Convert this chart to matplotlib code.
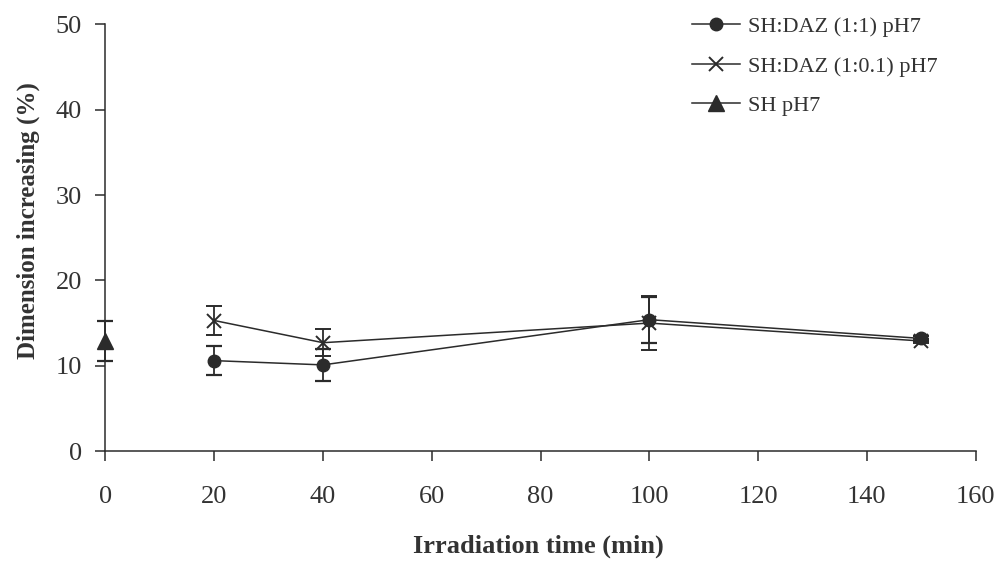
import matplotlib.pyplot as plt

# Data
time_11 = [20, 40, 100, 150]
dim_11 = [10.6, 10.1, 15.4, 13.2]
err_11 = [1.7, 1.9, 2.7, 0.3]

time_101 = [20, 40, 100, 150]
dim_101 = [15.3, 12.7, 15.0, 12.9]
err_101 = [1.7, 1.6, 3.2, 0.2]

time_sh = [0]
dim_sh = [12.9]
err_sh = [2.4]

plt.rcParams['font.family'] = ['Liberation Serif', 'DejaVu Serif']

fig = plt.figure(figsize=(9.99, 5.66), dpi=100)
ax = fig.add_axes([0.1056, 0.203, 0.871, 0.754])

col = '#2b2b2b'
ax.errorbar(time_11, dim_11, yerr=err_11, color=col, marker='o', markersize=9,
            linewidth=1.1, capsize=6, capthick=1.6, elinewidth=1.3,
            label='SH:DAZ (1:1) pH7')
ax.errorbar(time_101, dim_101, yerr=err_101, color=col, marker='x', markersize=10,
            markeredgewidth=1.4, linewidth=1.1, capsize=6, capthick=1.6, elinewidth=1.3,
            label='SH:DAZ (1:0.1) pH7')
ax.errorbar(time_sh, dim_sh, yerr=err_sh, color=col, marker='^', markersize=11,
            linewidth=1.1, capsize=6, capthick=1.6, elinewidth=1.3,
            label='SH pH7', clip_on=False)

ax.set_xlim(0, 160)
ax.set_ylim(0, 50)
ax.set_xticks(range(0, 161, 20))
ax.set_yticks(range(0, 51, 10))
ax.spines['top'].set_visible(False)
ax.spines['right'].set_visible(False)
for s in ['left', 'bottom']:
    ax.spines[s].set_color(col)
    ax.spines[s].set_linewidth(1.1)
ax.tick_params(direction='out', length=7, width=1.1, colors=col, labelsize=19,
               labelcolor='#333333')
ax.tick_params(axis='x', pad=18)
ax.tick_params(axis='y', pad=10)

ax.set_xlabel('Irradiation time (min)', fontsize=19, fontweight='bold',
              color='#333333')
ax.set_ylabel('Dimension increasing (%)', fontsize=18, fontweight='bold',
              color='#333333')
ax.xaxis.set_label_coords(0.498, -0.195)
ax.yaxis.set_label_coords(-0.075, 0.54)

handles, labels = ax.get_legend_handles_labels()
handles = [h[0] for h in handles]
leg = ax.legend(handles, labels, loc='upper left', bbox_to_anchor=(0.651, 1.065),
                frameon=False, fontsize=16, handlelength=2.15, handletextpad=0.35,
                labelspacing=0.85, labelcolor='#333333')

fig.savefig('out.png', dpi=100)
